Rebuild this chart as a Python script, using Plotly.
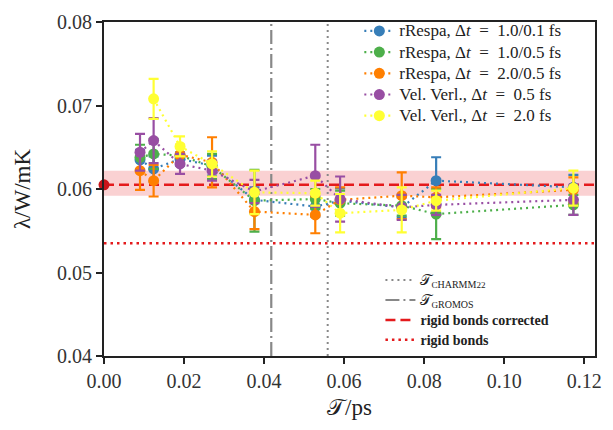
import plotly.graph_objects as go

x_vals = [0.009, 0.0124, 0.019, 0.027, 0.0376, 0.0528, 0.059, 0.0744, 0.083, 0.1173]

names = [
    "rRespa, Δ<i>t</i>\u2002=\u20021.0/0.1 fs",
    "rRespa, Δ<i>t</i>\u2002=\u20021.0/0.5 fs",
    "rRespa, Δ<i>t</i>\u2002=\u20022.0/0.5 fs",
    "Vel. Verl., Δ<i>t</i>\u2002=\u20020.5 fs",
    "Vel. Verl., Δ<i>t</i>\u2002=\u20022.0 fs",
]
colors = ["#377eb8", "#4daf4a", "#ff7f00", "#984ea3", "#ffff33"]

blue = [0.0635, 0.0624, 0.0636, 0.0628, 0.0587, 0.0579, 0.0586, 0.0578, 0.0610, 0.0602]
green = [0.0638, 0.0642, 0.0640, 0.0627, 0.0586, 0.0588, 0.0583, 0.0580, 0.0570, 0.0581]
orange = [0.0622, 0.0610, 0.0641, 0.0632, 0.0573, 0.0569, 0.0587, 0.0592, 0.0590, 0.0599]
purple = [0.0644, 0.0658, 0.0630, 0.0622, 0.0597, 0.0616, 0.0588, 0.0578, 0.0581, 0.0587]
yellow = [None, 0.0708, 0.0651, 0.0630, 0.0596, 0.0595, 0.0571, 0.0575, 0.0586, 0.0601]

blue_err = [0.0012, 0.0015, 0.0008, 0.0012, 0.0015, 0.0012, 0.0015, 0.0012, 0.0028, 0.0015]
green_err = [0.0015, 0.0018, 0.0010, 0.0015, 0.0037, 0.0012, 0.0015, 0.0012, 0.0030, 0.0012]
orange_err = [0.0023, 0.0019, 0.0012, 0.0030, 0.0021, 0.0022, 0.0015, 0.0028, 0.0012, 0.0015]
purple_err = [0.0022, 0.0027, 0.0012, 0.0012, 0.0014, 0.0037, 0.0027, 0.0015, 0.0012, 0.0018]
yellow_err = [None, 0.0024, 0.0012, 0.0015, 0.0026, 0.0015, 0.0023, 0.0027, 0.0012, 0.0021]

series = [blue, green, orange, purple, yellow]
errors = [blue_err, green_err, orange_err, purple_err, yellow_err]

tau_charmm = 0.0559
tau_gromos = 0.0418
rigid_corrected = 0.0605
rigid_band = [0.0592, 0.0622]
rigid = 0.0535

FONT = "Liberation Serif"

fig = go.Figure()


def big(t, s):
    return f"<span style='font-size:{s}px'>{t}</span>"


# legend-2 line entries
fig.add_trace(go.Scatter(
    x=[tau_charmm, tau_charmm], y=[0.04, 0.08], mode="lines",
    line=dict(color="#888888", width=2, dash="2px,4px"),
    name="<span style='font-size:15px'>𝒯</span><sub>C<span style='font-size:10px'>HARMM</span>22</sub>",
    legend="legend2"))
fig.add_trace(go.Scatter(
    x=[tau_gromos, tau_gromos], y=[0.04, 0.08], mode="lines",
    line=dict(color="#888888", width=2.2, dash="14px,4px,2px,4px"),
    name="<span style='font-size:15px'>𝒯</span><sub>G<span style='font-size:10px'>ROMOS</span></sub>",
    legend="legend2"))
fig.add_trace(go.Scatter(
    x=[0, 0.1227], y=[rigid_corrected, rigid_corrected], mode="lines",
    line=dict(color="#e41a1c", width=2.5, dash="10px,5px"),
    name=big("<b>rigid bonds corrected</b>", 14), legend="legend2"))
fig.add_trace(go.Scatter(
    x=[0, 0.1227], y=[rigid, rigid], mode="lines",
    line=dict(color="#e41a1c", width=2.5, dash="2.5px,4px"),
    name=big("<b>rigid bonds</b>", 14), legend="legend2"))

for name, col, ys, es in zip(names, colors, series, errors):
    fig.add_trace(go.Scatter(
        x=x_vals, y=ys, mode="lines+markers", name=big(name, 17),
        line=dict(color=col, width=2.2, dash="2px,4px"),
        marker=dict(color=col, size=11),
        error_y=dict(type="data", array=es, visible=True, color=col,
                     thickness=2.2, width=5),
        legend="legend", connectgaps=False))

fig.add_trace(go.Scatter(
    x=[0], y=[rigid_corrected], mode="markers",
    marker=dict(color="#c8141a", size=11), showlegend=False, cliponaxis=False))

fig.add_shape(type="rect", xref="paper", yref="y", x0=0, x1=1,
              y0=rigid_band[0], y1=rigid_band[1],
              fillcolor="rgba(236,90,95,0.28)", line=dict(width=0), layer="below")

axis_common = dict(showgrid=False, zeroline=False, showline=True, linecolor="#222222",
                   linewidth=1.8, mirror=True, ticks="outside", ticklen=6,
                   tickwidth=1.8, tickcolor="#222222",
                   tickfont=dict(family=FONT, size=20, color="#333333"))

fig.update_layout(
    width=613, height=430,
    margin=dict(l=104, r=11, t=15, b=74),
    plot_bgcolor="white", paper_bgcolor="white",
    font=dict(family=FONT, color="#222222"),
    xaxis=dict(range=[0, 0.1227], tickvals=[0, 0.02, 0.04, 0.06, 0.08, 0.10, 0.12],
               tickformat=".2f",
               title=dict(text="𝒯/ps", font=dict(family=FONT, size=23), standoff=8),
               **axis_common),
    yaxis=dict(range=[0.04, 0.08], tickvals=[0.04, 0.05, 0.06, 0.07, 0.08],
               tickformat=".2f",
               title=dict(text="λ/W/mK", font=dict(family=FONT, size=23), standoff=20),
               **axis_common),
    legend=dict(x=0.52, y=1.02, xanchor="left", yanchor="top",
                bgcolor="rgba(255,255,255,0)", borderwidth=0,
                font=dict(family=FONT, size=14, color="#222222"),
                tracegroupgap=0, itemwidth=30),
    legend2=dict(x=0.563, y=0.272, xanchor="left", yanchor="top",
                 bgcolor="rgba(255,255,255,0)", borderwidth=0,
                 font=dict(family=FONT, size=13, color="#222222"),
                 tracegroupgap=0, itemwidth=30),
    showlegend=True,
)

fig.write_html("out.html")
